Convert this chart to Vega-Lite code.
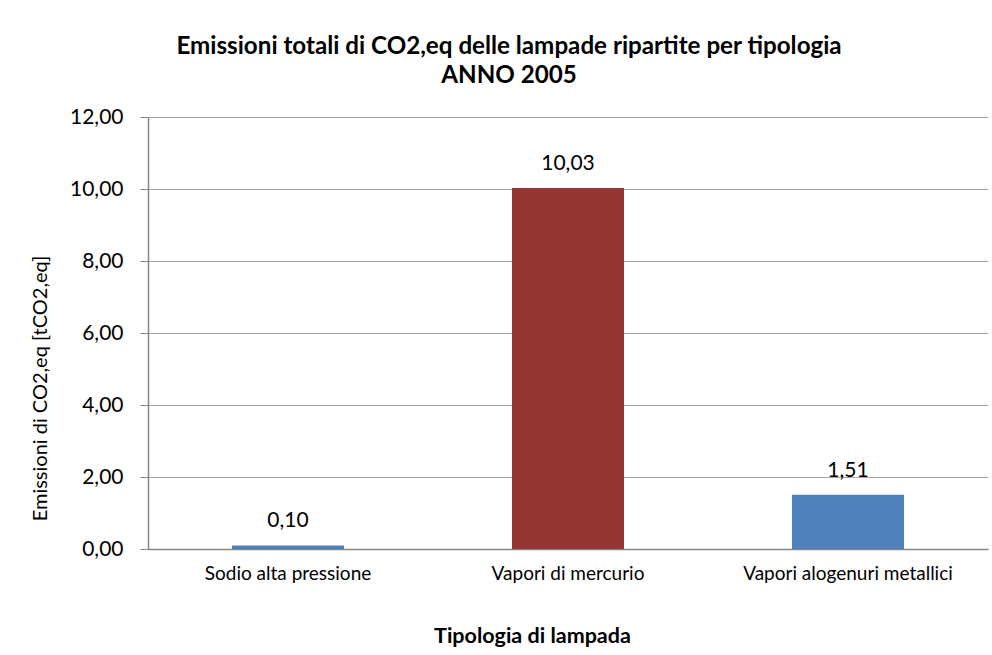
{
  "$schema": "https://vega.github.io/schema/vega-lite/v6.json",
  "width": 840,
  "height": 432,
  "autosize": {"type": "none"},
  "padding": {"left": 148, "top": 117, "right": 4, "bottom": 106},
  "background": "white",
  "config": {
    "locale": {"number": {"decimal": ",", "thousands": ".", "grouping": [3], "currency": ["€", ""]}},
    "font": "Lato",
    "view": {"stroke": null}
  },
  "title": {
    "text": ["Emissioni  totali di CO2,eq delle lampade ripartite per tipologia", "ANNO 2005"],
    "font": "Lato",
    "fontSize": 24.2,
    "fontWeight": "bold",
    "color": "#000000",
    "anchor": "middle",
    "frame": "bounds",
    "offset": 18,
    "lineHeight": 29
  },
  "data": {
    "values": [
      {"tipologia": "Sodio  alta pressione", "emissioni": 0.10},
      {"tipologia": "Vapori di mercurio", "emissioni": 10.03},
      {"tipologia": "Vapori alogenuri metallici", "emissioni": 1.51}
    ]
  },
  "encoding": {
    "x": {
      "field": "tipologia",
      "type": "nominal",
      "sort": null,
      "scale": {"paddingInner": 0.6, "paddingOuter": 0.3},
      "axis": {
        "title": "Tipologia di lampada",
        "titleFont": "Lato",
        "titleFontSize": 21.5,
        "titleFontWeight": "bold",
        "titleColor": "#000000",
        "titleX": 384,
        "titleY": 87,
        "titleBaseline": "middle",
        "titleAlign": "center",
        "labelAngle": 0,
        "labelFont": "Lato",
        "labelFontSize": 19,
        "labelColor": "#000000",
        "labelPadding": 24,
        "labelBaseline": "middle",
        "labelLimit": 400,
        "ticks": false,
        "tickSize": 0,
        "domainColor": "#868686",
        "domainWidth": 1.5
      }
    },
    "y": {
      "field": "emissioni",
      "type": "quantitative",
      "scale": {"domain": [0, 12]},
      "axis": {
        "title": "Emissioni di CO2,eq [tCO2,eq]",
        "titleFont": "Lato",
        "titleFontSize": 20,
        "titleFontWeight": "normal",
        "titleColor": "#000000",
        "titleAngle": -90,
        "titleX": -108,
        "titleY": 271,
        "titleAlign": "center",
        "titleBaseline": "middle",
        "values": [0, 2, 4, 6, 8, 10, 12],
        "format": ",.2f",
        "labelFont": "Lato",
        "labelFontSize": 21,
        "labelColor": "#000000",
        "labelPadding": 17,
        "tickSize": 8,
        "tickColor": "#868686",
        "domainColor": "#868686",
        "domainWidth": 1.5,
        "grid": true,
        "gridColor": "#a6a6a6",
        "gridWidth": 1.2
      }
    }
  },
  "layer": [
    {
      "mark": {"type": "bar"},
      "encoding": {
        "color": {
          "field": "tipologia",
          "type": "nominal",
          "scale": {
            "domain": ["Sodio  alta pressione", "Vapori di mercurio", "Vapori alogenuri metallici"],
            "range": ["#4F81BD", "#943634", "#4F81BD"]
          },
          "legend": null
        }
      }
    },
    {
      "mark": {"type": "text", "baseline": "bottom", "dy": -14, "fontSize": 21, "font": "Lato", "color": "#000000"},
      "encoding": {
        "text": {"field": "emissioni", "type": "quantitative", "format": ",.2f"}
      }
    }
  ]
}
